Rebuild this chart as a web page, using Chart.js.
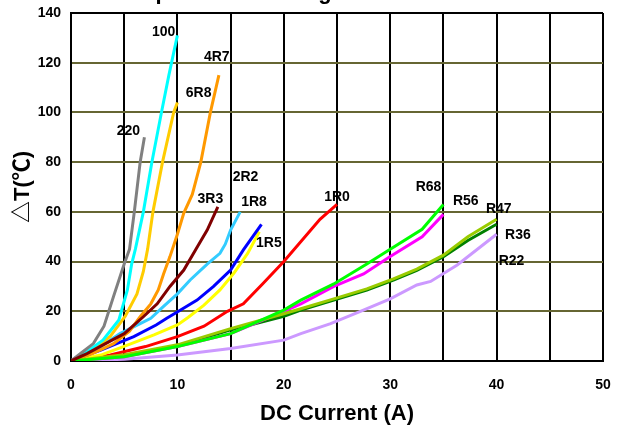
<!DOCTYPE html>
<html>
<head>
<meta charset="utf-8">
<script src="https://cdn.jsdelivr.net/npm/chart.js@4.4.1/dist/chart.umd.min.js"></script>
<style>
  body { margin: 0; background: #fff; }
  #wrap { width: 620px; height: 428px; }
</style>
</head>
<body>
<div id="wrap"><canvas id="tempChart" width="620" height="428"></canvas></div>
<script>
// Temperature rise vs DC current, one [current, deltaT] list per part
const s220 = [[0,0],[0.9,3],[2.1,7],[3.1,14],[4,26],[5,39],[5.5,45],[5.95,60],[6.5,80],[6.9,90]];
const s100 = [[0,0],[1.5,3.7],[3,8.4],[4.5,16.5],[5.3,28.6],[5.7,39],[6.05,45],[6.8,60],[7.6,80],[8.5,100],[9.2,115],[10,131]];
const s6R8 = [[0,0],[1.8,3.7],[3.7,10],[5.1,18],[6.2,27],[6.8,36],[7.2,45],[7.7,60],[8.6,80],[9.65,100],[10,104]];
const s4R7 = [[0,0],[2,3],[4,7],[5.5,12],[6.5,17.8],[7.5,23],[8.2,28.6],[8.7,35],[9.3,42],[10,51],[10.6,59.5],[11.4,67],[12.2,80],[13.1,100],[13.9,115]];
const s3R3 = [[0,0],[1.5,3],[2.8,6],[5,11],[6.8,17.8],[8.1,23],[9.3,30],[10.6,36.6],[11.7,44.7],[12.8,52.7],[13.8,62]];
const s2R2 = [[0,0],[2.5,5],[4.6,11],[6.5,15],[7.5,17.2],[8.7,22],[10,27],[11.2,32.6],[12.8,39],[14,43.3],[14.5,47],[15,52.7],[15.9,60]];
const s1R8 = [[0,0],[2.8,4.4],[5.9,9.8],[8,14.5],[9,17.2],[10.3,20.5],[11.85,24.5],[13.4,30],[15,36.6],[16.2,44.7],[17.9,55]];
const s1R5 = [[0,0],[2.8,2.4],[5.3,6.4],[7.8,10.5],[10,14.5],[11,17.5],[12.5,22.5],[14,28.6],[15.3,35.3],[16.6,43.3],[17.7,52]];
const s1R0 = [[0,0],[3.7,2.4],[7,5.8],[10,9.8],[12.5,14],[14.7,20],[16.2,23],[18,31],[20,40],[23.4,57],[25,63]];
const sR68 = [[0,0],[5,1.7],[10,5.8],[15,11],[20,20.5],[21.6,24.5],[24.7,31],[27.8,39],[30,45],[33,53],[35,63]];
const sR56 = [[0,0],[5,1.7],[10,5.8],[15,11],[20,20],[21.6,23],[24.7,30],[27.5,35],[30,42],[33,50],[35,59]];
const sR47 = [[0,0],[5,2.5],[10,6.5],[15,13],[20,19],[21.6,21],[24.7,25],[27.8,29],[30.3,33],[32.5,37],[35,42.6],[37.3,50],[40,57]];
const sR36 = [[0,0],[5,2.2],[10,6],[15,12.5],[20,18],[21.6,20.5],[24.7,24.5],[27.8,28.5],[30.3,32.5],[32.5,36.5],[35,42],[37.3,48.5],[40,55]];
const sR22 = [[0,0],[5,0.7],[10,2.4],[15,5],[20,8.4],[21.6,11],[24.4,15],[27.2,20],[30,25],[32.5,30.6],[33.8,32],[36.3,38.6],[40,51]];

const seriesNames = ['3R3', 'R68', 'R47', '220', '100', '6R8', '4R7', '2R2', '1R8', '1R5', '1R0', 'R56', 'R36', 'R22'];
const seriesData = [s3R3, sR68, sR47, s220, s100, s6R8, s4R7, s2R2, s1R8, s1R5, s1R0, sR56, sR36, sR22];
const seriesColors = ['#800000', '#00ff00', '#99cc00', '#808080', '#00ffff', '#ffcc00', '#ff9900', '#33ccff', '#0000ff', '#ffff00', '#ff0000', '#ff00ff', '#008000', '#cc99ff'];

// curve tags, placed in data units
const curveTags = [
  ['100', 8.7, 132.3], ['4R7', 13.7, 122.3], ['6R8', 12.0, 107.8], ['220', 5.4, 92.5],
  ['3R3', 13.1, 65.2], ['2R2', 16.4, 74.0], ['1R8', 17.2, 63.9], ['1R5', 18.6, 47.5],
  ['1R0', 25.0, 66.0], ['R68', 33.6, 70.0], ['R56', 37.1, 64.4], ['R47', 40.2, 61.1],
  ['R36', 42.0, 50.6], ['R22', 41.4, 40.2]
];

const FONT = "'Liberation Sans', Arial, 'Noto Sans CJK SC', sans-serif";
const GRID_OLIVE = '#666633';

const tagPlugin = {
  id: 'curveTags',
  afterDatasetsDraw(chart) {
    const { ctx, scales: { x, y } } = chart;
    ctx.save();
    ctx.font = 'bold 14px ' + FONT;
    ctx.fillStyle = '#000';
    ctx.textAlign = 'center';
    ctx.textBaseline = 'middle';
    curveTags.forEach(([txt, vx, vy]) => {
      ctx.fillText(txt, x.getPixelForValue(vx), y.getPixelForValue(vy));
    });
    ctx.restore();
  }
};

// chart title sits mostly above the picture, only descenders show
const cutTitle = {
  id: 'cutTitle',
  afterDraw(chart) {
    const ctx = chart.ctx;
    ctx.save();
    ctx.font = 'bold 22px ' + FONT;
    ctx.fillStyle = '#000';
    ctx.textAlign = 'left';
    ctx.textBaseline = 'alphabetic';
    ctx.fillText('Temperature Rise Against Current', 112, -1);
    ctx.restore();
  }
};

const datasets = seriesData.map((pts, i) => ({
  label: seriesNames[i],
  data: pts.map(p => ({ x: p[0], y: p[1] })),
  borderColor: seriesColors[i],
  backgroundColor: seriesColors[i],
  borderWidth: 3,
  pointRadius: 0,
  tension: 0,
  fill: false
}));

new Chart(document.getElementById('tempChart'), {
  type: 'line',
  data: { datasets },
  plugins: [tagPlugin, cutTitle],
  options: {
    responsive: false,
    animation: false,
    devicePixelRatio: 1,
    layout: { padding: { top: 13, right: 17, left: 0, bottom: 0 } },
    plugins: { legend: { display: false }, tooltip: { enabled: false } },
    scales: {
      x: {
        type: 'linear',
        min: 0,
        max: 50,
        afterFit(s) { s.height = 67; s.paddingLeft = 0; s.paddingRight = 0; },
        border: { color: '#000', width: 2 },
        grid: { color: '#000', lineWidth: 2, drawTicks: false },
        ticks: {
          stepSize: 5,
          autoSkip: false,
          maxRotation: 0,
          padding: 16,
          color: '#000',
          font: { family: FONT, size: 14, weight: 'bold' },
          callback: v => (v % 10 === 0 ? v : '')
        },
        title: {
          display: true,
          text: 'DC Current (A)',
          color: '#000',
          font: { family: FONT, size: 22, weight: 'bold' },
          padding: { top: 0, bottom: 1 }
        }
      },
      y: {
        min: 0,
        max: 140,
        afterFit(s) { s.width = 71; s.paddingTop = 0; s.paddingBottom = 0; },
        border: { color: '#000', width: 2 },
        grid: {
          color: c => (c.tick && (c.tick.value === 0 || c.tick.value === 140) ? '#000' : GRID_OLIVE),
          lineWidth: 2,
          drawTicks: false
        },
        ticks: {
          stepSize: 20,
          padding: 10,
          color: '#000',
          font: { family: FONT, size: 14, weight: 'bold' }
        },
        title: {
          display: true,
          text: '△T(℃)',
          color: '#000',
          font: { family: FONT, size: 22, weight: 'bold' },
          padding: { top: 10, bottom: 0 }
        }
      }
    }
  }
});
</script>
</body>
</html>
